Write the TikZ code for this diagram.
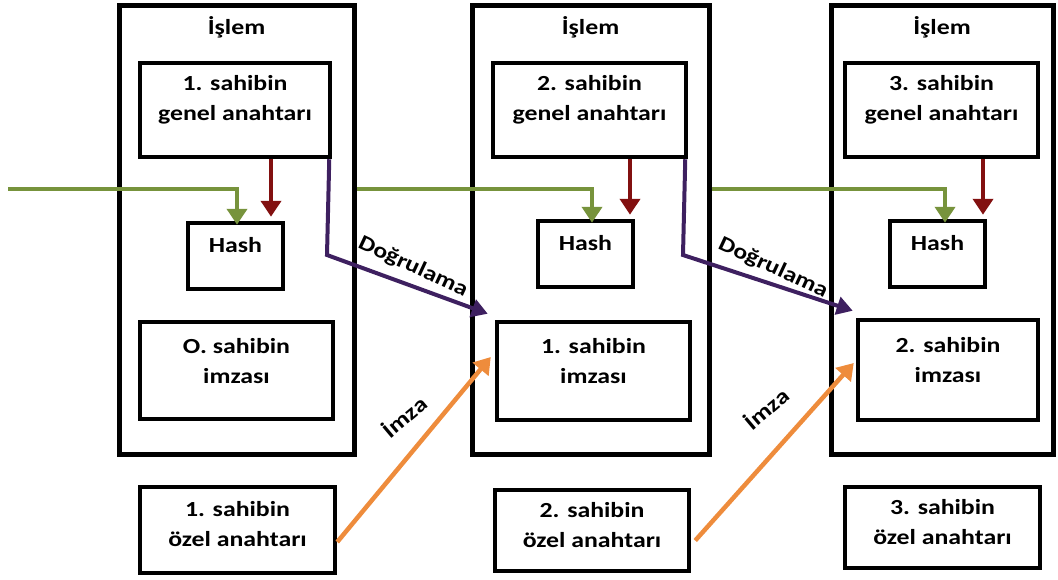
\documentclass[tikz,border=0pt]{standalone}
\usepackage{fontspec}
\usetikzlibrary{arrows.meta}
\newfontfamily\lbl{Carlito}[FakeStretch=1.2,UprightFont={* Bold}]
\definecolor{cgreen}{RGB}{119,147,60}
\definecolor{cred}{RGB}{130,16,16}
\definecolor{cpurple}{RGB}{62,32,96}
\definecolor{corange}{RGB}{238,140,60}
\begin{document}
\begin{tikzpicture}[x=1pt,y=-1pt,
  outerbox/.style={draw, line width=5pt, inner sep=0pt},
  box/.style={draw, line width=4.5pt, inner sep=0pt},
  tx/.style={font=\lbl\fontsize{21.5}{30}\selectfont, align=center, inner sep=0pt},
  arr/.style={line width=4.5pt, -{Triangle[length=16pt,width=20pt]}},
]
\useasboundingbox (0,0) rectangle (1058,579);
% transaction boxes
\node[outerbox, minimum width=235, minimum height=449] (t1) at (236.5,229.5) {};
\node[outerbox, minimum width=237, minimum height=449] (t2) at (590.5,229.5) {};
\node[outerbox, minimum width=222, minimum height=449] (t3) at (942,229.5) {};
\node[tx] (l1) at (236.5,27) {İşlem};
\node[tx] (l2) at (590.5,27) {İşlem};
\node[tx] (l3) at (942,27) {İşlem};
% public keys
\node[box, minimum width=190, minimum height=94] (p1) at (235,110) {};
\node[box, minimum width=193, minimum height=94] (p2) at (589.5,110) {};
\node[box, minimum width=193, minimum height=94] (p3) at (941.5,110) {};
\node[tx] (pt1) at (235,100) {1. sahibin\\genel anahtarı};
\node[tx] (pt2) at (589.5,100) {2. sahibin\\genel anahtarı};
\node[tx] (pt3) at (941.5,100) {3. sahibin\\genel anahtarı};
% hash
\node[box, minimum width=95, minimum height=66] (h1) at (235.5,256) {};
\node[box, minimum width=95, minimum height=66] (h2) at (585.5,254) {};
\node[box, minimum width=95, minimum height=66] (h3) at (937.5,254) {};
\node[tx] (ht1) at (235.5,245) {Hash};
\node[tx] (ht2) at (585.5,243) {Hash};
\node[tx] (ht3) at (937.5,243) {Hash};
% signatures
\node[box, minimum width=193, minimum height=97] (s0) at (236.5,370.5) {};
\node[box, minimum width=193, minimum height=98] (s1) at (593.5,371) {};
\node[box, minimum width=180, minimum height=100] (s2) at (948,370) {};
\node[tx] (st0) at (236.5,361) {O. sahibin\\imzası};
\node[tx] (st1) at (593.5,361) {1. sahibin\\imzası};
\node[tx] (st2) at (948,360) {2. sahibin\\imzası};
% private keys
\node[box, minimum width=195, minimum height=86] (k1) at (237.5,530) {};
\node[box, minimum width=194, minimum height=81] (k2) at (592,530.5) {};
\node[box, minimum width=195, minimum height=81] (k3) at (942.5,527.5) {};
\node[tx] (kt1) at (237.5,524) {1. sahibin\\özel anahtarı};
\node[tx] (kt2) at (592,525) {2. sahibin\\özel anahtarı};
\node[tx] (kt3) at (942.5,522) {3. sahibin\\özel anahtarı};
% green arrows
\coordinate (g0) at (8,189);
\draw[arr, cgreen] (g0) -| ([xshift=1.5pt,yshift=-4pt]h1.north);
\draw[arr, cgreen] (t1.east |- 0,189) -| ([xshift=6.5pt,yshift=-4pt]h2.north);
\draw[arr, cgreen] (t2.east |- 0,189) -| ([xshift=7.5pt,yshift=-4pt]h3.north);
% red arrows
\draw[arr, cred, shorten >=4pt] (p1.south -| 271,0) -- (271,0 |- h1.north);
\draw[arr, cred, shorten >=4pt] (p2.south -| 630,0) -- (630,0 |- h2.north);
\draw[arr, cred, shorten >=4pt] (p3.south -| 983,0) -- (983,0 |- h3.north);
% purple arrows
\draw[line width=4pt, cpurple, -{Triangle[length=16pt,width=18pt]}] ([xshift=-3pt]p1.south east) -- (327,255) -- ([shift={(-7pt,6pt)}]s1.north west);
\draw[line width=4pt, cpurple, -{Triangle[length=16pt,width=18pt]}] ([xshift=-3pt]p2.south east) -- (683,255) -- ([shift={(-3pt,7pt)}]s2.north west);
% orange arrows
\draw[arr, corange] ([shift={(0pt,-12pt)}]k1.east) -- ([shift={(-4pt,14pt)}]s1.west);
\draw[arr, corange] ([shift={(4pt,-10pt)}]k2.east) -- ([shift={(-2pt,7pt)}]s2.west);
% labels
\node[tx, rotate=-25] (d1) at (413,267) {Doğrulama};
\node[tx, rotate=-25] (d2) at (773,268) {Doğrulama};
\node[tx, rotate=40] (i1) at (404,416) {İmza};
\node[tx, rotate=40] (i2) at (766,408) {İmza};
\end{tikzpicture}
\end{document}
